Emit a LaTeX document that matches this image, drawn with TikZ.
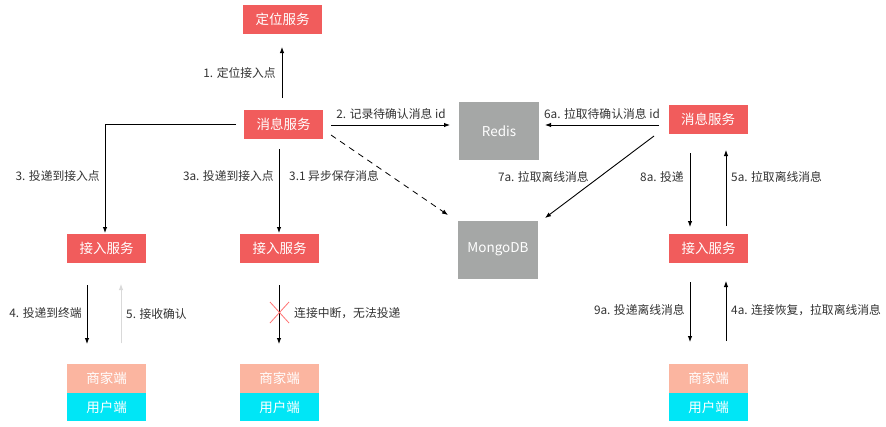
\documentclass[tikz,border=0pt]{standalone}
\usepackage{fontspec}
\setmainfont{Noto Sans CJK SC}
\usetikzlibrary{arrows.meta}
\definecolor{svcred}{HTML}{F15C5C}
\definecolor{dbgray}{HTML}{A5A7A6}
\definecolor{shopc}{HTML}{FBB5A0}
\definecolor{userc}{HTML}{00E6F6}
\definecolor{lbl}{HTML}{333333}
\tikzset{
  svc/.style={fill=svcred,text=white,minimum width=79pt,minimum height=29pt,inner sep=0pt,font=\fontsize{13.5}{15}\selectfont},
  db/.style={fill=dbgray,text=white,minimum width=80pt,minimum height=58pt,inner sep=0pt,font=\fontsize{13.5}{15}\selectfont},
  shop/.style={fill=shopc,text=white,minimum width=79pt,minimum height=29pt,inner sep=0pt,font=\fontsize{13.5}{15}\selectfont},
  user/.style={fill=userc,text=white,minimum width=79pt,minimum height=28pt,inner sep=0pt,font=\fontsize{13.5}{15}\selectfont},
  lab/.style={text=lbl,inner sep=0pt,font=\fontsize{11.8}{13}\selectfont},
  arr/.style={-{Latex[length=6pt,width=4.5pt]},line width=0.9pt},
}
\begin{document}
\begin{tikzpicture}[x=1pt,y=-1pt]
\useasboundingbox[fill=white] (0,0) rectangle (886,426);
% boxes
\node[svc] (loc) at (282.5,19.5) {定位服务};
\node[svc] (msgL) at (283.5,124.5) {消息服务};
\node[db] (redis) at (499,131) {Redis};
\node[db] (mongo) at (498,249.5) {MongoDB};
\node[svc] (msgR) at (708,119) {消息服务};
\node[svc] (accL) at (106.5,248.5) {接入服务};
\node[svc] (accM) at (279.5,248.5) {接入服务};
\node[svc] (accR) at (708.5,248.5) {接入服务};
\node[shop] (shopL) at (106.5,378.5) {商家端};
\node[user] (userL) at (106.5,407) {用户端};
\node[shop] (shopM) at (279.5,378.5) {商家端};
\node[user] (userM) at (279.5,407) {用户端};
\node[shop] (shopR) at (708.5,378.5) {商家端};
\node[user] (userR) at (708.5,407) {用户端};
% anchor coordinates
\coordinate (a1s) at (282,98); \coordinate (a1e) at (282,47);
\coordinate (a2s) at (331,125); \coordinate (a2e) at (450,125);
\coordinate (d1s) at (331,135); \coordinate (d1e) at (448,215);
\coordinate (l3s) at (236,124); \coordinate (l3c) at (105,124); \coordinate (l3e) at (105,233);
\coordinate (a3as) at (279,149); \coordinate (a3ae) at (279,233);
\coordinate (a4s) at (87,285); \coordinate (a4e) at (87,344);
\coordinate (a5s) at (121,343); \coordinate (a5e) at (121,284);
\coordinate (amS) at (279,285); \coordinate (amE) at (279,344);
\coordinate (a6s) at (659,125); \coordinate (a6e) at (545,125);
\coordinate (a7s) at (654,136); \coordinate (a7e) at (545,218);
\coordinate (a8s) at (690,153); \coordinate (a8e) at (690,227);
\coordinate (a5as) at (726,226); \coordinate (a5ae) at (726,150);
\coordinate (a9s) at (690,282); \coordinate (a9e) at (690,342);
\coordinate (a4as) at (726,341); \coordinate (a4ae) at (726,281);
% connectors
\draw[arr] (a1s) -- (a1e);
\draw[arr] (a2s) -- (a2e);
\draw[arr,dashed,dash pattern=on 6pt off 5pt,line width=0.8pt] (d1s) -- (d1e);
\draw[arr] (l3s) -- (l3c) -- (l3e);
\draw[arr] (a3as) -- (a3ae);
\draw[arr] (a4s) -- (a4e);
\draw[arr,draw=black!15,fill=black!15] (a5s) -- (a5e);
\draw[arr] (amS) -- (amE);
\draw[arr] (a6s) -- (a6e);
\draw[arr] (a7s) -- (a7e);
\draw[arr] (a8s) -- (a8e);
\draw[arr] (a5as) -- (a5ae);
\draw[arr] (a9s) -- (a9e);
\draw[arr] (a4as) -- (a4ae);
% red cross
\draw[draw=red!55,line width=0.8pt] (270,302) -- (289,323) (289,302) -- (270,323);
% labels
\node[lab,anchor=east] (t1) at (276,73) {1. 定位接入点};
\node[lab,anchor=south] (t2) at (391,120) {2. 记录待确认消息 id};
\node[lab,anchor=west] (t31) at (289,176) {3.1 异步保存消息};
\node[lab,anchor=east] (t3) at (100,176) {3. 投递到接入点};
\node[lab,anchor=east] (t3a) at (274,176) {3a. 投递到接入点};
\node[lab,anchor=east] (t4) at (82,313) {4. 投递到终端};
\node[lab,anchor=west] (t5) at (126,314) {5. 接收确认};
\node[lab,anchor=west] (tx) at (294,313) {连接中断，无法投递};
\node[lab,anchor=south] (t6a) at (602,120) {6a. 拉取待确认消息 id};
\node[lab,anchor=east] (t7a) at (589,177) {7a. 拉取离线消息};
\node[lab,anchor=east] (t8a) at (684,177) {8a. 投递};
\node[lab,anchor=west] (t5a) at (731,177) {5a. 拉取离线消息};
\node[lab,anchor=east] (t9a) at (685,310) {9a. 投递离线消息};
\node[lab,anchor=west] (t4a) at (731,310) {4a. 连接恢复，拉取离线消息};
\end{tikzpicture}
\end{document}
